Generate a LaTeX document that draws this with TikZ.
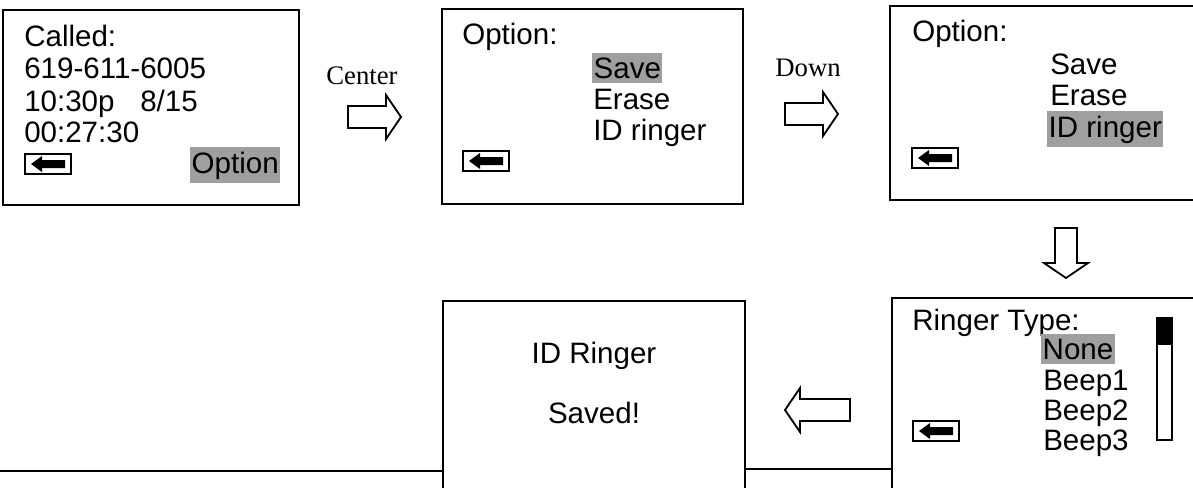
\documentclass[tikz,border=0pt]{standalone}
\usepackage{fontspec}
\setmainfont{Liberation Serif}
\newfontfamily\lcdfont{Liberation Sans}
\usetikzlibrary{positioning}

\begin{document}
\begin{tikzpicture}[x=0.025cm,y=-0.025cm,
  screen/.style={line width=1.5pt},
  lcd/.style={font=\lcdfont\fontsize{21}{24}\selectfont,anchor=base west,inner sep=0pt},
  sel/.style={lcd,fill=gray!75,inner xsep=1pt,inner ysep=3pt},
  key label/.style={font=\fontsize{19}{22}\selectfont,inner sep=0pt},
  fat/.style={draw,line width=1.3pt,fill=white,line join=miter},
  pics/backkey/.style={code={
    \draw[line width=1.5pt] (0,0) rectangle (46,20);
    \fill (6,10) -- (17,2) -- (17,6) -- (40,6) -- (40,14) -- (17,14) -- (17,18) -- cycle;}},
  pics/bigarrow/.style={code={
    \draw[fat] (-#1,-11) -- (0,-11) -- (0,-22) -- (15,0) -- (0,22) -- (0,11) -- (-#1,11) -- cycle;}}]
  \useasboundingbox (0,0) rectangle (1193,488);

  % call screen
  \draw[screen] (3,10) rectangle (299,205);
  \node[lcd] (called) at (24,46) {Called:};
  \node[lcd] (number) at (24,78) {619-611-6005};
  \node[lcd] (time) at (24,111) {10:30p};
  \node[lcd] (date) at (140,111) {8/15};
  \node[lcd] (length) at (24,142) {00:27:30};
  \pic at (25,154) {backkey};
  \node[sel] (opt) at (190,173) {Option};

  % option screen, Save selected
  \draw[screen] (442,9) rectangle (743,204);
  \node[lcd] (head2) at (462,44) {Option:};
  \node[sel] (save2) at (592,78) {Save};
  \node[lcd] (erase2) at (593,109) {Erase};
  \node[lcd] (ring2) at (593,140) {ID ringer};
  \pic at (463,151) {backkey};

  % option screen, ID ringer selected
  \draw[screen] (1193,6) -- (890,6) -- (890,200) -- (1193,200);
  \node[lcd] (head3) at (912,41) {Option:};
  \node[lcd] (save3) at (1050,74) {Save};
  \node[lcd] (erase3) at (1050,105) {Erase};
  \node[sel] (ring3) at (1047,137) {ID ringer};
  \pic at (912,148) {backkey};

  % ringer type screen
  \draw[screen] (1193,298) -- (892,298) -- (892,488);
  \node[lcd] (head4) at (912,330) {Ringer Type:};
  \node[sel] (none) at (1041,359) {None};
  \node[lcd] (beep1) at (1043,390) {Beep1};
  \node[lcd] (beep2) at (1043,420) {Beep2};
  \node[lcd] (beep3) at (1043,450) {Beep3};
  \pic at (913,421) {backkey};
  \draw[line width=1.3pt] (1157,318) rectangle (1172,440);
  \fill (1157,318) rectangle (1172,345);

  % saved screen
  \draw[screen] (443,488) -- (443,301) -- (745,301) -- (745,488);
  \node[lcd,anchor=base] (idr) at (594,363) {ID Ringer};
  \node[lcd,anchor=base] (saved) at (594,423) {Saved!};
  \coordinate (l0) at (0,471);
  \coordinate (l1) at (443,471);
  \coordinate (r0) at (745,469);
  \coordinate (r1) at (892,469);
  \draw[screen] (l0) -- (l1);
  \draw[screen] (r0) -- (r1);

  % keys
  \node[key label] (center) at (362,76) {Center};
  \pic at (386,117) {bigarrow=38};
  \node[key label] (down) at (808,68) {Down};
  \pic at (823,114) {bigarrow=38};
  \pic[rotate=-90] at (1066,263) {bigarrow=35};
  \pic[rotate=180] at (800,410) {bigarrow=50};
\end{tikzpicture}
\end{document}
